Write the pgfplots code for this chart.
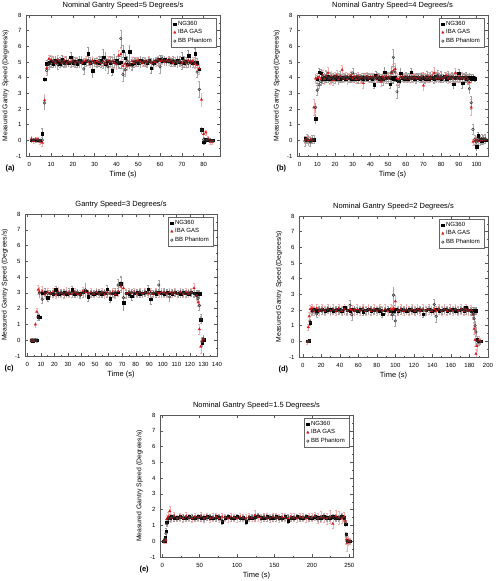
\documentclass[border=0pt]{standalone}
\usepackage{fontspec}
\setmainfont{Liberation Sans}
\usepackage{pgfplots}
\usepackage{pgfplotstable}
\pgfplotsset{compat=1.18}

\pgfplotstableread{
t ng ngE iba ibaE bb bbE
1 0.02 0.08 0.10 0.15 0.00 0.10
2 0.00 0.08 -0.05 0.15 0.03 0.10
3 0.03 0.08 0.08 0.15 -0.02 0.10
4 0.00 0.08 0.05 0.15 0.02 0.10
5 0.02 0.08 -0.10 0.15 0.00 0.10
6 0.42 0.35 -0.15 0.20 0.02 0.15
7 3.90 0.10 2.55 0.40 2.38 0.40
8 4.90 0.20 4.60 0.30 4.45 0.30
9 4.95 0.25 5.20 0.25 4.85 0.30
10 5.05 0.30 5.15 0.30 4.90 0.25
11 4.90 0.20 5.05 0.25 5.10 0.30
12 5.10 0.25 4.95 0.25 5.00 0.25
13 5.00 0.25 5.15 0.30 4.85 0.30
14 4.90 0.20 5.05 0.25 5.10 0.20
15 5.15 0.30 4.95 0.20 5.00 0.25
16 4.95 0.20 5.10 0.25 4.90 0.25
17 5.05 0.25 4.90 0.20 5.05 0.30
18 4.95 0.20 5.05 0.20 5.00 0.20
19 5.30 0.30 5.00 0.25 4.95 0.25
20 4.95 0.20 5.10 0.25 5.05 0.30
21 5.05 0.25 4.95 0.20 4.90 0.25
22 4.90 0.20 5.05 0.25 5.05 0.20
23 5.10 0.25 5.00 0.20 4.95 0.25
24 5.00 0.20 4.95 0.25 5.10 0.25
25 4.95 0.25 5.05 0.20 4.55 0.30
26 5.05 0.20 5.10 0.25 5.00 0.25
27 5.55 0.40 5.00 0.20 5.10 0.30
28 4.95 0.25 4.90 0.25 5.05 0.25
29 4.45 0.40 5.10 0.30 4.95 0.30
30 5.05 0.20 4.95 0.20 5.00 0.25
31 5.00 0.25 5.05 0.25 4.90 0.20
32 4.95 0.20 5.00 0.20 5.10 0.25
33 5.10 0.30 4.95 0.25 5.00 0.30
34 5.30 0.50 5.05 0.30 4.95 0.35
35 4.85 0.40 4.90 0.35 5.15 0.50
36 5.05 0.30 5.10 0.25 4.70 0.40
37 4.95 0.25 5.00 0.30 5.05 0.30
38 4.45 0.30 5.05 0.30 4.95 0.35
39 5.00 0.30 4.95 0.35 5.10 0.40
40 5.10 0.30 4.85 0.30 4.95 0.30
41 4.95 0.30 5.40 0.35 5.00 0.40
42 5.00 0.40 5.50 0.40 6.50 0.55
43 5.70 0.40 4.75 0.40 4.20 0.40
44 5.25 0.40 4.90 0.30 4.50 0.40
45 4.85 0.30 4.75 0.30 5.05 0.35
46 5.65 0.40 4.90 0.30 4.90 0.30
47 4.85 0.30 5.05 0.25 4.75 0.30
48 4.95 0.25 4.95 0.20 5.05 0.25
49 5.05 0.20 5.05 0.25 4.95 0.20
50 4.95 0.20 5.10 0.20 5.00 0.25
51 5.10 0.25 5.00 0.20 4.90 0.20
52 5.00 0.20 4.95 0.20 5.10 0.20
53 5.05 0.20 5.05 0.25 5.00 0.25
54 4.95 0.25 5.00 0.20 4.95 0.20
55 5.10 0.20 5.10 0.25 5.05 0.20
56 4.60 0.30 4.95 0.20 5.00 0.25
57 4.95 0.25 5.05 0.20 4.85 0.30
58 5.05 0.20 5.00 0.25 5.10 0.20
59 5.15 0.25 5.15 0.20 5.05 0.25
60 5.20 0.25 5.05 0.20 4.70 0.40
61 5.10 0.20 5.10 0.25 5.20 0.25
62 5.15 0.25 5.00 0.20 5.10 0.25
63 5.05 0.20 5.10 0.20 5.00 0.20
64 5.10 0.20 5.05 0.25 5.15 0.25
65 5.00 0.25 5.10 0.20 5.05 0.20
66 5.05 0.20 4.95 0.20 5.10 0.25
67 4.95 0.20 5.05 0.25 5.00 0.20
68 5.10 0.25 5.00 0.20 4.95 0.25
69 5.00 0.20 5.05 0.25 5.05 0.30
70 5.25 0.35 4.95 0.30 4.85 0.30
71 4.95 0.25 5.05 0.30 5.10 0.25
72 5.05 0.25 4.95 0.25 5.00 0.30
73 5.40 0.35 5.10 0.25 4.90 0.25
74 5.00 0.25 4.95 0.30 5.05 0.30
75 4.95 0.25 5.05 0.25 4.90 0.25
76 5.55 0.35 4.90 0.30 5.00 0.30
77 4.95 0.30 4.80 0.30 4.35 0.30
78 4.55 0.30 4.60 0.35 3.25 0.50
79 0.70 0.15 2.60 0.40 0.65 0.20
80 -0.12 0.15 0.40 0.20 0.05 0.15
81 0.05 0.10 0.50 0.15 0.00 0.10
82 0.02 0.10 0.10 0.15 0.05 0.10
83 0.00 0.10 -0.10 0.15 0.02 0.10
84 0.00 0.10 -0.10 0.15 -0.02 0.10
}\tabA

\pgfplotstableread{
t ng ngE iba ibaE bb bbE
3 0.10 0.10 0.00 0.20 -0.05 0.30
4 0.00 0.10 0.05 0.20 0.10 0.30
5 0.02 0.10 -0.05 0.25 0.00 0.30
6 0.00 0.10 0.05 0.20 -0.10 0.30
7 0.00 0.10 0.00 0.20 0.05 0.25
8 0.05 0.10 2.10 0.50 0.05 0.25
9 1.40 0.30 3.95 0.30 2.10 0.30
10 3.90 0.25 4.00 0.30 3.20 0.30
11 4.35 0.25 4.05 0.30 3.55 0.25
12 4.30 0.25 3.90 0.35 3.75 0.25
13 3.95 0.30 4.15 0.35 4.05 0.30
14 4.05 0.25 3.90 0.30 3.95 0.25
15 3.95 0.25 4.10 0.35 4.10 0.30
16 4.10 0.25 4.30 0.40 3.95 0.25
17 3.90 0.25 3.95 0.35 4.05 0.30
18 4.05 0.20 4.10 0.30 3.90 0.25
19 3.95 0.25 3.85 0.35 4.05 0.25
20 4.10 0.25 4.05 0.30 3.95 0.30
21 3.95 0.20 4.15 0.30 4.05 0.25
22 4.05 0.25 3.90 0.30 3.90 0.25
23 3.95 0.25 4.05 0.25 4.10 0.30
24 4.00 0.20 4.50 0.30 3.95 0.25
25 4.05 0.25 3.95 0.25 4.05 0.25
26 3.95 0.20 4.10 0.25 3.95 0.20
27 4.05 0.25 3.90 0.30 4.05 0.25
28 4.00 0.20 4.05 0.25 3.95 0.25
29 3.95 0.25 4.15 0.25 4.05 0.30
30 4.05 0.25 3.95 0.25 4.30 0.30
31 3.95 0.20 4.05 0.25 3.95 0.25
32 4.05 0.25 3.90 0.25 4.05 0.25
33 3.90 0.25 4.10 0.25 3.95 0.25
34 4.05 0.20 3.95 0.30 4.05 0.20
35 4.00 0.25 4.05 0.25 3.90 0.25
36 3.95 0.20 3.65 0.30 4.05 0.25
37 4.05 0.25 4.00 0.25 3.95 0.20
38 3.95 0.20 4.10 0.25 4.05 0.25
39 4.05 0.25 3.95 0.25 4.00 0.20
40 4.00 0.20 4.05 0.25 3.95 0.25
41 3.95 0.25 4.00 0.20 4.05 0.25
42 3.55 0.25 4.05 0.25 3.95 0.25
43 4.15 0.25 3.95 0.25 4.05 0.20
44 4.00 0.20 4.10 0.25 3.95 0.25
45 3.95 0.25 3.95 0.20 4.05 0.25
46 4.05 0.20 3.75 0.30 3.95 0.25
47 3.95 0.25 4.05 0.25 3.85 0.30
48 4.35 0.30 3.95 0.25 4.05 0.25
49 4.00 0.25 4.10 0.25 3.95 0.30
50 4.05 0.25 3.95 0.30 4.00 0.35
51 3.60 0.30 4.05 0.30 3.95 0.35
52 4.00 0.30 4.30 0.35 4.35 0.40
53 3.95 0.30 4.45 0.40 5.30 0.55
54 4.05 0.30 4.55 0.40 4.35 0.40
55 3.85 0.30 3.95 0.35 3.10 0.40
56 3.80 0.30 3.90 0.30 3.75 0.35
57 4.30 0.30 4.05 0.30 3.95 0.30
58 4.00 0.25 4.00 0.25 4.05 0.25
59 3.95 0.25 4.05 0.25 3.95 0.25
60 4.05 0.25 3.95 0.25 4.05 0.30
61 3.95 0.20 4.05 0.25 3.95 0.25
62 4.05 0.25 3.95 0.25 4.05 0.25
63 4.35 0.25 4.05 0.20 3.95 0.25
64 4.00 0.25 3.95 0.25 4.05 0.25
65 3.95 0.20 4.05 0.25 4.00 0.25
66 4.05 0.25 3.95 0.25 3.95 0.30
67 4.00 0.20 4.05 0.25 4.05 0.25
68 3.95 0.25 3.95 0.25 4.00 0.30
69 4.05 0.25 4.10 0.25 3.95 0.25
70 4.00 0.20 3.50 0.30 4.05 0.30
71 3.95 0.25 4.05 0.25 3.95 0.30
72 4.05 0.20 3.95 0.25 4.10 0.30
73 3.95 0.25 4.05 0.30 3.95 0.25
74 4.05 0.25 3.95 0.25 4.05 0.30
75 4.00 0.20 4.10 0.30 4.00 0.25
76 3.95 0.25 4.30 0.35 3.95 0.30
77 4.10 0.25 3.95 0.25 4.05 0.25
78 4.00 0.20 4.05 0.30 4.15 0.30
79 4.05 0.25 3.95 0.25 4.00 0.25
80 3.95 0.25 4.05 0.30 4.10 0.30
81 4.05 0.20 3.95 0.25 3.95 0.25
82 4.10 0.25 4.05 0.30 4.05 0.30
83 3.95 0.25 4.10 0.25 4.00 0.25
84 4.05 0.25 3.95 0.30 4.10 0.30
85 4.00 0.20 4.05 0.25 3.95 0.25
86 4.05 0.25 3.95 0.30 4.05 0.30
87 3.60 0.30 4.05 0.25 4.00 0.25
88 4.00 0.25 4.30 0.30 3.95 0.25
89 4.05 0.25 3.95 0.25 4.05 0.30
90 4.30 0.25 4.05 0.30 3.95 0.25
91 4.00 0.25 3.95 0.25 4.05 0.25
92 3.65 0.30 4.05 0.30 4.00 0.30
93 4.05 0.25 3.95 0.25 3.95 0.25
94 3.95 0.25 4.05 0.25 4.05 0.30
95 4.00 0.25 3.90 0.25 3.85 0.25
96 4.05 0.25 3.70 0.30 3.30 0.30
97 3.95 0.25 2.10 0.50 2.40 0.40
98 4.05 0.15 -0.10 0.20 0.70 0.30
99 3.95 0.15 -0.05 0.25 0.05 0.30
100 -0.40 0.20 0.00 0.25 -0.10 0.30
101 0.30 0.25 -0.05 0.20 0.05 0.30
102 0.05 0.20 0.05 0.25 0.00 0.30
103 -0.05 0.20 0.00 0.20 0.10 0.30
104 0.05 0.20 0.10 0.25 0.05 0.30
105 0.00 0.20 0.05 0.25 0.10 0.30
}\tabB

\pgfplotstableread{
t ng ngE iba ibaE bb bbE
3 0.00 0.08 0.00 0.10 0.00 0.08
4 -0.02 0.08 -0.05 0.10 0.02 0.08
5 0.02 0.08 -0.05 0.10 0.00 0.08
6 0.00 0.08 1.00 0.15 0.02 0.08
7 0.02 0.08 1.80 0.25 0.00 0.10
8 1.50 0.20 3.20 0.30 1.45 0.20
9 1.45 0.20 3.05 0.30 3.00 0.25
11 3.00 0.25 3.10 0.30 2.60 0.25
13 3.05 0.25 2.90 0.25 3.00 0.20
15 2.70 0.25 3.05 0.25 2.95 0.20
17 3.00 0.20 2.95 0.25 3.00 0.20
19 2.95 0.20 3.05 0.25 2.95 0.20
21 3.20 0.25 2.90 0.25 3.00 0.20
23 2.95 0.20 3.05 0.30 2.95 0.20
25 3.00 0.20 3.00 0.25 3.05 0.20
27 3.05 0.20 2.90 0.25 2.95 0.20
29 2.95 0.20 3.05 0.30 3.00 0.20
31 3.00 0.20 2.95 0.25 3.05 0.25
33 3.20 0.25 3.00 0.25 2.95 0.20
35 2.95 0.20 3.05 0.25 3.00 0.20
37 3.00 0.20 2.95 0.25 3.05 0.20
39 2.95 0.20 2.90 0.25 2.85 0.20
41 3.05 0.20 3.10 0.25 3.00 0.25
43 3.10 0.30 3.05 0.30 3.20 0.40
45 2.75 0.30 2.95 0.25 3.00 0.20
47 3.00 0.20 3.05 0.25 2.95 0.20
49 2.95 0.20 2.95 0.25 3.00 0.20
51 3.00 0.20 3.05 0.25 3.05 0.20
53 3.05 0.20 2.95 0.25 2.95 0.20
55 2.95 0.20 3.05 0.25 3.00 0.20
57 3.00 0.20 2.90 0.25 3.05 0.20
59 3.25 0.25 3.05 0.25 2.95 0.20
61 2.65 0.25 2.95 0.25 3.00 0.20
63 3.00 0.20 3.05 0.25 2.95 0.20
65 2.95 0.20 2.90 0.25 3.05 0.25
67 3.05 0.25 3.10 0.30 3.50 0.40
69 3.60 0.40 3.40 0.35 3.55 0.50
71 2.40 0.50 3.30 0.35 2.70 0.40
73 3.00 0.25 2.95 0.30 2.95 0.25
75 2.95 0.20 3.05 0.25 3.00 0.20
77 2.80 0.25 3.00 0.25 3.05 0.20
79 3.00 0.20 3.05 0.25 2.95 0.20
81 3.05 0.20 2.95 0.25 3.00 0.20
83 2.95 0.20 3.05 0.25 3.05 0.20
85 3.00 0.20 2.95 0.25 2.95 0.20
87 3.05 0.20 3.05 0.25 3.00 0.20
89 3.25 0.25 2.95 0.25 3.05 0.20
91 2.60 0.30 3.05 0.25 2.95 0.20
93 3.00 0.20 2.95 0.25 3.00 0.20
95 2.95 0.20 3.05 0.25 3.05 0.20
97 3.05 0.20 2.95 0.25 3.50 0.30
99 3.00 0.20 3.05 0.25 2.95 0.20
101 2.95 0.20 3.00 0.25 3.05 0.25
103 3.05 0.20 2.95 0.25 3.00 0.20
105 3.00 0.20 3.05 0.25 2.75 0.30
107 2.95 0.20 2.95 0.25 3.05 0.20
109 3.05 0.20 3.05 0.25 3.00 0.20
111 3.00 0.20 2.95 0.25 2.95 0.20
113 2.95 0.20 3.05 0.25 3.05 0.20
115 3.05 0.20 2.95 0.25 3.00 0.20
117 3.00 0.20 3.05 0.25 2.95 0.20
119 2.95 0.20 2.95 0.25 3.05 0.20
121 3.05 0.20 3.05 0.25 3.00 0.20
123 3.00 0.20 3.30 0.30 2.95 0.20
125 2.95 0.20 2.80 0.25 2.85 0.25
126 3.00 0.20 2.40 0.25 2.65 0.25
127 2.95 0.20 0.70 0.30 2.20 0.30
128 1.30 0.20 -0.40 0.40 1.35 0.30
129 -0.15 0.20 -0.10 0.30 -0.10 0.25
130 0.05 0.15 0.05 0.25 0.10 0.20
}\tabC

\pgfplotstableread{
t ng ngE iba ibaE bb bbE
5 0.00 0.08 -0.05 0.15 0.00 0.08
6 0.02 0.08 0.90 0.20 0.00 0.08
7 0.05 0.08 1.60 0.25 0.05 0.10
8 1.20 0.15 2.05 0.25 1.25 0.15
10 2.00 0.25 2.10 0.30 1.90 0.20
12 2.05 0.20 1.95 0.30 2.00 0.20
15 1.95 0.20 2.10 0.30 1.75 0.20
18 2.00 0.20 1.95 0.30 2.05 0.20
21 2.05 0.20 2.05 0.30 1.95 0.20
24 1.95 0.20 1.95 0.30 2.00 0.20
27 2.00 0.20 2.10 0.30 2.05 0.20
30 2.05 0.20 1.95 0.30 1.95 0.20
33 1.95 0.20 2.05 0.30 2.00 0.20
36 2.00 0.20 1.95 0.30 2.05 0.20
39 2.05 0.20 2.10 0.30 1.95 0.20
42 1.95 0.20 1.95 0.30 2.00 0.20
45 2.15 0.20 2.05 0.30 2.05 0.20
48 2.00 0.20 1.95 0.30 1.95 0.20
51 1.95 0.20 2.05 0.30 2.30 0.35
53 2.05 0.25 2.00 0.30 1.70 0.35
56 2.00 0.20 1.95 0.30 2.05 0.20
59 1.95 0.20 2.05 0.30 1.95 0.20
62 2.05 0.20 1.95 0.30 2.00 0.20
65 1.90 0.20 2.10 0.30 2.05 0.20
68 2.00 0.20 1.95 0.30 1.95 0.20
71 2.05 0.20 2.05 0.30 2.00 0.20
74 1.95 0.20 1.95 0.30 2.05 0.20
77 2.00 0.20 2.05 0.30 1.95 0.20
80 2.05 0.20 1.95 0.30 2.00 0.20
83 1.95 0.20 2.05 0.30 2.05 0.20
86 1.75 0.20 1.95 0.30 1.95 0.20
89 2.00 0.20 2.05 0.30 2.00 0.20
92 2.05 0.20 1.95 0.30 2.05 0.20
95 1.95 0.20 2.05 0.30 1.90 0.20
97 2.00 0.20 2.00 0.30 1.70 0.30
98 1.95 0.20 2.10 0.30 2.95 0.50
100 2.05 0.25 2.55 0.40 1.30 0.35
103 1.95 0.20 1.95 0.30 2.00 0.20
106 2.05 0.20 2.05 0.30 1.95 0.20
109 2.00 0.20 1.95 0.30 2.05 0.20
112 1.95 0.20 2.05 0.30 2.00 0.20
115 2.05 0.20 1.95 0.30 1.95 0.20
118 2.00 0.20 2.05 0.30 2.05 0.20
121 1.95 0.20 1.95 0.30 2.00 0.20
124 2.05 0.20 2.05 0.30 1.95 0.20
127 2.00 0.20 1.95 0.30 2.05 0.20
130 1.75 0.20 2.05 0.30 2.00 0.20
133 2.00 0.20 1.95 0.30 1.95 0.20
136 2.05 0.20 2.05 0.30 2.05 0.20
139 1.95 0.20 1.95 0.30 2.00 0.20
142 2.00 0.20 2.05 0.30 2.35 0.35
144 2.05 0.20 1.95 0.30 1.60 0.35
147 1.95 0.20 2.05 0.30 2.05 0.20
150 2.00 0.20 1.95 0.30 1.95 0.20
153 2.05 0.20 2.05 0.30 2.00 0.20
156 1.95 0.20 1.95 0.30 2.05 0.20
159 2.00 0.20 2.05 0.30 1.95 0.20
162 2.05 0.20 1.95 0.30 2.00 0.20
165 1.95 0.20 2.05 0.30 2.05 0.20
168 2.00 0.20 1.95 0.30 1.95 0.20
171 2.05 0.20 2.05 0.30 2.00 0.20
174 1.95 0.20 1.95 0.30 2.05 0.20
176 2.20 0.20 2.05 0.30 1.95 0.20
179 2.00 0.20 1.95 0.30 2.00 0.20
182 1.95 0.20 2.00 0.30 1.90 0.20
184 2.00 0.20 1.70 0.30 1.75 0.20
185 2.00 0.20 0.80 0.35 1.45 0.25
186 1.95 0.20 0.10 0.40 1.00 0.30
187 1.95 0.20 -0.80 0.30 0.60 0.30
188 0.10 0.20 -0.30 0.30 0.05 0.25
190 0.00 0.15 0.05 0.25 -0.05 0.20
192 0.00 0.15 0.00 0.20 0.00 0.15
}\tabD

\pgfplotstableread{
t ng ngE iba ibaE bb bbE
2 0.00 0.08 0.05 0.15 0.00 0.08
3 0.05 0.08 0.00 0.15 0.02 0.08
4 0.25 0.10 0.10 0.20 0.15 0.10
5 0.65 0.15 0.05 0.20 0.50 0.15
6 1.20 0.15 1.40 0.25 1.10 0.15
8 1.45 0.20 1.55 0.30 1.40 0.20
10 1.50 0.20 1.90 0.30 1.45 0.20
12 1.55 0.15 1.45 0.25 1.50 0.15
16 1.45 0.15 1.60 0.25 1.55 0.15
20 1.50 0.15 1.45 0.20 1.45 0.15
24 1.55 0.15 1.55 0.25 1.50 0.15
28 1.45 0.15 1.45 0.25 1.55 0.15
32 1.50 0.15 1.60 0.25 1.45 0.15
36 1.55 0.15 1.50 0.20 1.50 0.15
40 1.45 0.15 1.45 0.25 1.55 0.15
44 1.50 0.15 1.55 0.25 1.45 0.15
48 1.55 0.15 1.50 0.20 1.50 0.15
52 1.45 0.15 1.60 0.25 1.55 0.15
56 1.50 0.15 1.45 0.25 1.45 0.15
60 1.55 0.15 1.55 0.20 1.50 0.15
64 1.50 0.15 1.45 0.25 1.55 0.15
68 1.45 0.15 1.50 0.25 1.50 0.15
72 1.55 0.15 1.55 0.20 1.45 0.15
76 1.50 0.15 1.45 0.25 1.55 0.15
80 1.25 0.15 1.55 0.25 1.30 0.15
84 1.50 0.15 1.50 0.20 1.50 0.15
88 1.55 0.15 1.45 0.25 1.55 0.15
92 1.45 0.15 1.55 0.25 1.45 0.15
96 1.50 0.15 1.50 0.20 1.50 0.15
100 1.55 0.15 1.45 0.25 1.55 0.15
104 1.45 0.15 1.55 0.25 1.45 0.15
108 1.50 0.15 1.50 0.20 1.50 0.15
112 1.25 0.15 1.45 0.25 1.35 0.15
116 1.50 0.15 1.55 0.25 1.50 0.15
120 1.45 0.15 1.50 0.20 1.55 0.15
124 1.55 0.15 1.65 0.30 1.45 0.15
128 1.60 0.15 1.55 0.25 1.65 0.15
132 1.50 0.15 1.45 0.25 1.50 0.15
136 1.45 0.15 1.55 0.20 1.55 0.15
140 1.55 0.15 1.50 0.25 1.45 0.15
144 1.50 0.15 1.45 0.25 1.50 0.15
148 1.45 0.15 1.55 0.20 1.55 0.15
152 1.55 0.15 1.50 0.25 1.45 0.15
156 1.50 0.15 1.45 0.25 1.50 0.15
160 1.45 0.15 1.55 0.20 1.40 0.15
164 1.55 0.15 1.50 0.25 1.50 0.15
168 1.30 0.15 1.45 0.25 1.55 0.15
172 1.50 0.15 1.55 0.20 1.45 0.15
176 1.45 0.15 1.50 0.25 1.50 0.15
180 1.55 0.15 1.45 0.25 1.55 0.15
184 1.50 0.15 1.55 0.20 1.45 0.15
188 1.45 0.15 1.50 0.25 1.50 0.15
192 1.55 0.15 1.45 0.25 1.55 0.15
196 1.50 0.15 1.55 0.20 1.45 0.15
200 1.45 0.15 1.50 0.25 1.50 0.15
204 1.55 0.15 1.60 0.25 1.55 0.15
208 1.50 0.15 1.45 0.30 1.45 0.15
212 1.45 0.15 1.55 0.35 1.50 0.15
216 1.55 0.15 1.50 0.30 1.55 0.15
220 1.50 0.15 1.45 0.35 1.45 0.15
224 1.45 0.15 1.55 0.40 1.50 0.15
228 1.55 0.15 1.10 0.30 1.55 0.15
232 1.50 0.15 1.60 0.35 1.45 0.15
236 1.45 0.15 1.50 0.40 1.50 0.15
240 1.55 0.15 1.45 0.30 1.60 0.15
243 1.50 0.15 1.55 0.30 1.45 0.15
245 1.10 0.15 1.30 0.30 1.15 0.15
246 0.45 0.15 0.10 0.30 0.40 0.15
247 0.05 0.15 -0.10 0.50 0.00 0.15
249 0.00 0.10 0.05 0.30 0.02 0.10
251 0.02 0.10 0.00 0.20 0.00 0.10
}\tabE

\definecolor{ibared}{RGB}{220,20,20}

\pgfplotsset{
  panel/.style={
    scale only axis,
    ymin=-1, ymax=8, ytick={-1,0,...,8},
    minor x tick num=1, minor y tick num=1,
    tick align=inside,
    axis line style={black!65, line width=0.5pt},
    every tick/.style={black!65, line width=0.4pt},
    major tick length=2.6pt, minor tick length=1.4pt,
    tick label style={font=\fontsize{6}{7}\selectfont},
    xticklabel style={yshift=-2.5pt},
    yticklabel style={xshift=-1pt},
    /pgf/number format/assume math mode=true,
    xlabel={Time (s)},
    ylabel={Measured Gantry Speed (Degrees/s)},
    xlabel style={font=\fontsize{7.5}{8}\selectfont, at={(axis description cs:0.5,0)}, anchor=center, yshift=-19pt},
    ylabel style={font=\fontsize{6.8}{8}\selectfont, at={(axis description cs:-0.105,0.5)}, anchor=center},
    every axis title/.style={font=\fontsize{7.5}{8}\selectfont, at={(axis description cs:0.5,1)}, anchor=base, yshift=7.5pt},
    legend style={font=\fontsize{6}{7}\selectfont, at={(1,1)}, anchor=north east, xshift=-4pt, yshift=-3pt,
      draw=black!60, line width=0.4pt, inner xsep=2pt, inner ysep=1pt, row sep=-1.2pt, cells={anchor=west}},
    legend image code/.code={\draw[#1] plot coordinates {(0.12cm,0cm)};},
  },
  ngs/.style={only marks, mark=square*, mark size=1.25pt, color=black,
    mark options={fill=black, draw=black, line width=0.2pt},
    error bars/y dir=both, error bars/y explicit,
    error bars/error bar style={black!40, line width=0.35pt},
    error bars/error mark options={rotate=90, mark size=0.9pt, black!40, line width=0.35pt}},
  ibas/.style={only marks, mark=triangle*, mark size=1.5pt, color=ibared,
    mark options={fill=ibared, draw=ibared, line width=0.2pt},
    error bars/y dir=both, error bars/y explicit,
    error bars/error bar style={ibared!35, line width=0.35pt},
    error bars/error mark options={rotate=90, mark size=0.9pt, ibared!35, line width=0.35pt}},
  bbs/.style={only marks, mark=o, mark size=1.3pt, color=black!80,
    mark options={fill=white, draw=black!80, line width=0.5pt},
    error bars/y dir=both, error bars/y explicit,
    error bars/error bar style={black!35, line width=0.35pt},
    error bars/error mark options={rotate=90, mark size=0.9pt, black!35, line width=0.35pt}},
}

\newcommand{\panellabel}[2]{\node[anchor=west, font=\bfseries\fontsize{7.5}{8}\selectfont] at ([xshift=-24pt, yshift=-13pt]#1.south west) {#2};}

\begin{document}
\begin{tikzpicture}
\path[use as bounding box] (0pt,0pt) rectangle (499pt,581pt);

% (a)
\begin{axis}[panel, name=A, at={(26pt,425pt)}, anchor=south west, width=194pt, height=141pt,
  xmin=-1.5, xmax=87.5, xtick={0,10,...,80},
  title={Nominal Gantry Speed=5 Degrees/s}]
\addplot[ngs] table[x=t, y=ng, y error=ngE] {\tabA};
\addlegendentry{NG360}
\addplot[ibas] table[x=t, y=iba, y error=ibaE] {\tabA};
\addlegendentry{IBA GAS}
\addplot[bbs] table[x=t, y=bb, y error=bbE] {\tabA};
\addlegendentry{BB Phantom}
\end{axis}
\panellabel{A}{(a)}

% (b)
\begin{axis}[panel, name=B, at={(297pt,425pt)}, anchor=south west, width=191pt, height=141pt,
  xmin=-1.5, xmax=106.5, xtick={0,10,...,100},
  title={Nominal Gantry Speed=4 Degrees/s}]
\addplot[ngs] table[x=t, y=ng, y error=ngE] {\tabB};
\addlegendentry{NG360}
\addplot[ibas] table[x=t, y=iba, y error=ibaE] {\tabB};
\addlegendentry{IBA GAS}
\addplot[bbs] table[x=t, y=bb, y error=bbE] {\tabB};
\addlegendentry{BB Phantom}
\end{axis}
\panellabel{B}{(b)}

% (c)
\begin{axis}[panel, name=C, at={(25pt,225pt)}, anchor=south west, width=192pt, height=142pt,
  xmin=-1.7, xmax=140, xtick={0,10,...,140},
  title={Gantry Speed=3 Degrees/s}]
\addplot[ngs] table[x=t, y=ng, y error=ngE] {\tabC};
\addlegendentry{NG360}
\addplot[ibas] table[x=t, y=iba, y error=ibaE] {\tabC};
\addlegendentry{IBA GAS}
\addplot[bbs] table[x=t, y=bb, y error=bbE] {\tabC};
\addlegendentry{BB Phantom}
\end{axis}
\panellabel{C}{(c)}

% (d)
\begin{axis}[panel, name=D, at={(299pt,224pt)}, anchor=south west, width=189pt, height=141pt,
  xmin=-4, xmax=200, xtick={0,20,...,200},
  title={Nominal Gantry Speed=2 Degrees/s}]
\addplot[ngs] table[x=t, y=ng, y error=ngE] {\tabD};
\addlegendentry{NG360}
\addplot[ibas] table[x=t, y=iba, y error=ibaE] {\tabD};
\addlegendentry{IBA GAS}
\addplot[bbs] table[x=t, y=bb, y error=bbE] {\tabD};
\addlegendentry{BB Phantom}
\end{axis}
\panellabel{D}{(d)}

% (e)
\begin{axis}[panel, name=E, at={(160pt,24pt)}, anchor=south west, width=193pt, height=142pt,
  xmin=-3, xmax=255, xtick={0,50,...,250},
  title={Nominal Gantry Speed=1.5 Degrees/s}]
\addplot[ngs] table[x=t, y=ng, y error=ngE] {\tabE};
\addlegendentry{NG360}
\addplot[ibas] table[x=t, y=iba, y error=ibaE] {\tabE};
\addlegendentry{IBA GAS}
\addplot[bbs] table[x=t, y=bb, y error=bbE] {\tabE};
\addlegendentry{BB Phantom}
\end{axis}
\panellabel{E}{(e)}
\end{tikzpicture}
\end{document}
